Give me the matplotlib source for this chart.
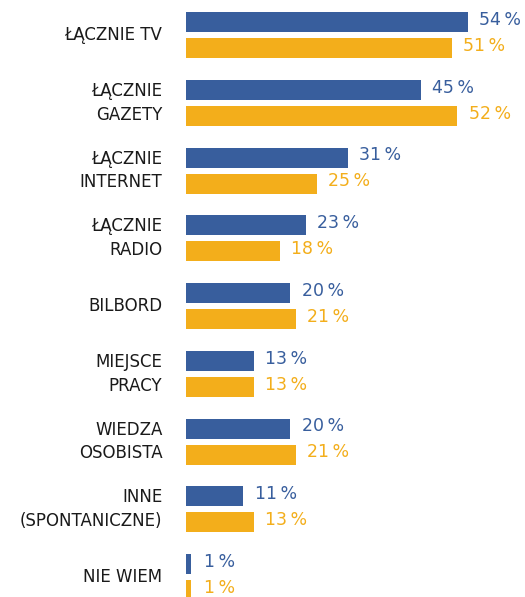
"""Horizontal grouped bar chart: media sources (blue vs yellow series)."""

import matplotlib

matplotlib.use("Agg")
import matplotlib.pyplot as plt
import numpy as np

# %% Data
categories = [
    "ŁĄCZNIE TV",
    "ŁĄCZNIE\nGAZETY",
    "ŁĄCZNIE\nINTERNET",
    "ŁĄCZNIE\nRADIO",
    "BILBORD",
    "MIEJSCE\nPRACY",
    "WIEDZA\nOSOBISTA",
    "INNE\n(SPONTANICZNE)",
    "NIE WIEM",
]
blue_values = [54, 45, 31, 23, 20, 13, 20, 11, 1]
yellow_values = [51, 52, 25, 18, 21, 13, 21, 13, 1]

BLUE = "#385E9D"
YELLOW = "#F3AE1B"

# %% Plot
fig = plt.figure(figsize=(5.25, 5.97), dpi=100)
ax = fig.add_axes([186 / 525, 0, 339 / 525, 1])

y = np.arange(len(categories))
offset, height = 0.192, 0.295

ax.barh(y - offset, blue_values, height=height, color=BLUE)
ax.barh(y + offset, yellow_values, height=height, color=YELLOW)

# value labels sit a touch above the bar centre, like the original
for yi, bv, yv in zip(y, blue_values, yellow_values):
    ax.annotate(f"{bv}\u2009%", (max(bv, 1.25), yi - offset), xytext=(8, 1.5),
                textcoords="offset points", va="center", ha="left",
                fontsize=12.5, color=BLUE)
    ax.annotate(f"{yv}\u2009%", (max(yv, 1.25), yi + offset), xytext=(8, 1.5),
                textcoords="offset points", va="center", ha="left",
                fontsize=12.5, color=YELLOW)

ax.set_xlim(0, 339 / 5.22)
ax.set_ylim(8.295, -0.517)
ax.set_yticks(y)
ax.set_yticklabels(categories, fontsize=12, color="#1a1a1a", linespacing=1.4)
for lbl in ax.get_yticklabels():
    lbl.set_verticalalignment("center")
ax.tick_params(axis="y", length=0, pad=17)
ax.set_xticks([])
for spine in ax.spines.values():
    spine.set_visible(False)

fig.savefig("out.png", dpi=100)
